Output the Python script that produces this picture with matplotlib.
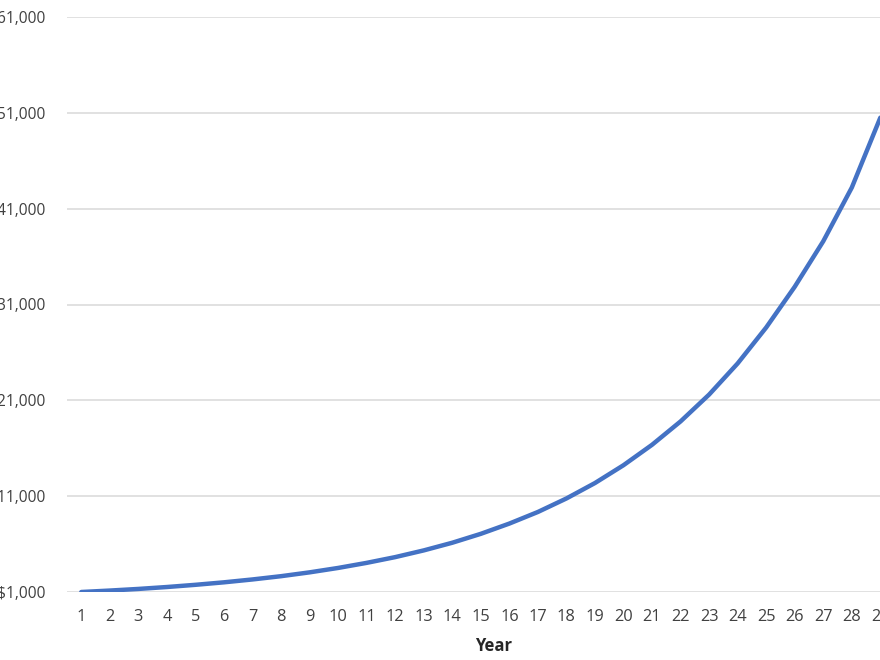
import matplotlib.pyplot as plt
from matplotlib.ticker import FuncFormatter

plt.rcParams['font.family'] = ['Open Sans', 'DejaVu Sans']

# values
years = list(range(1, 30))
balance = [1000, 1150, 1320, 1520, 1750, 2010, 2310, 2650, 3050, 3510,
           4040, 4640, 5340, 6140, 7070, 8140, 9350, 10760, 12370, 14230,
           16360, 18800, 21600, 24850, 28600, 32850, 37600, 43200, 50500]
y_ticks = [1000, 11000, 21000, 31000, 41000, 51000, 61000]

fig = plt.figure(figsize=(8.8, 6.6), dpi=100)
# the original is a crop: plot area runs past the right edge, labels cut on the left
ax = fig.add_axes([67/880, 1 - 592/660, (894.6 - 67)/880, (592 - 17)/660])

ax.plot(years, balance, color='#4472C4', lw=3.2, solid_capstyle='round', zorder=3)

ax.set_xlim(0.5, 29.5)
ax.set_ylim(1000, 61000)
ax.set_xticks(years)
ax.set_yticks(y_ticks)
ax.yaxis.set_major_formatter(FuncFormatter(lambda v, p: '${:,.0f}'.format(v)))

ax.grid(axis='y', color='#D9D9D9', lw=1.1)
ax.set_axisbelow(True)
for s in ax.spines.values():
    s.set_visible(False)
ax.tick_params(length=0, labelcolor='#404040')
ax.tick_params(axis='y', pad=15.5, labelsize=11.2)
ax.tick_params(axis='x', pad=12, labelsize=11.8)

ax.set_xlabel('Year', fontsize=12, fontweight='bold', color='#262626')
ax.xaxis.set_label_coords((494 - 67) / 827.6, -0.078)

fig.savefig('out.png', dpi=100)
